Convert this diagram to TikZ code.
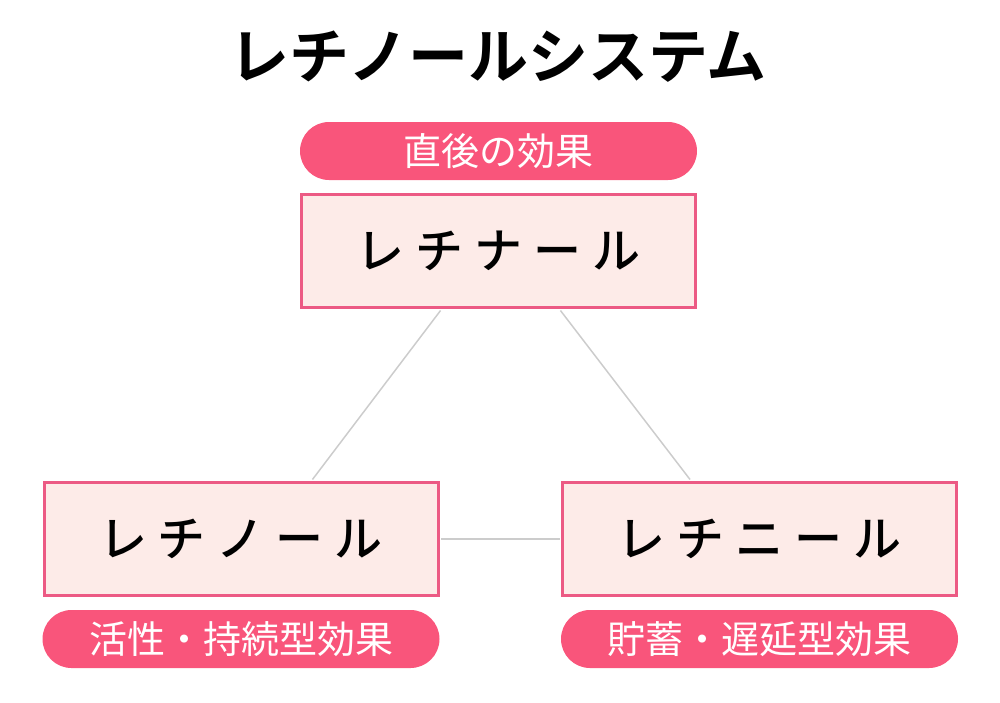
\documentclass[tikz,border=0pt]{standalone}
\usepackage{fontspec}
\setmainfont{Noto Sans CJK JP}
\newfontfamily\jpbold{Noto Sans CJK JP Bold}
\newfontfamily\jpmed{Noto Sans CJK JP Medium}
\usetikzlibrary{calc}
\definecolor{pinkfill}{HTML}{FDEBE8}
\definecolor{pinkline}{HTML}{EC5A84}
\definecolor{pillpink}{HTML}{F9557B}
\definecolor{linkgray}{HTML}{CCCCCC}
\newcommand{\gp}{\hspace{11pt}}
\begin{document}
\begin{tikzpicture}[x=1pt,y=-1pt,
  mainbox/.style={draw=pinkline,line width=3pt,fill=pinkfill,minimum width=394pt,minimum height=113pt,inner sep=0pt,font=\jpmed\fontsize{48}{54}\selectfont},
  pill/.style={fill=pillpink,rounded corners=29pt,minimum width=397pt,minimum height=58pt,inner sep=0pt,text=white,font=\fontsize{38}{42}\selectfont},
  link/.style={draw=linkgray,line width=1.5pt}]
\useasboundingbox (0,0) rectangle (1000,702);
\node[font=\jpbold\fontsize{60}{66}\selectfont] (title) at (498,57) {レチノールシステム};
\node[pill] (p1) at (498.5,151) {直後の効果};
\node[mainbox] (b1) at (498.5,251) {\raisebox{-3pt}{レ\gp チ\gp ナ\gp ー\gp ル}};
\node[mainbox] (b2) at (241,539) {\raisebox{-3pt}{レ\gp チ\gp ノ\gp ー\gp ル}};
\node[mainbox] (b3) at (759.5,539) {\raisebox{-3pt}{レ\gp チ\gp ニ\gp ー\gp ル}};
\node[pill] (p2) at (241,639) {活性・持続型効果};
\node[pill] (p3) at (759.5,639) {貯蓄・遅延型効果};
\coordinate (a1) at ($(b1.south west)!0.354!(b1.south east)$);
\coordinate (a2) at ($(b1.south west)!0.656!(b1.south east)$);
\coordinate (c2) at ($(b2.north west)!0.68!(b2.north east)$);
\coordinate (c3) at ($(b3.north west)!0.325!(b3.north east)$);
\draw[link] ([yshift=-1.5pt]a1) -- ([yshift=1.5pt]c2);
\draw[link] ([yshift=-1.5pt]a2) -- ([yshift=1.5pt]c3);
\draw[link] ([xshift=1.5pt]b2.east) -- ([xshift=-1.5pt]b3.west);
\end{tikzpicture}
\end{document}
